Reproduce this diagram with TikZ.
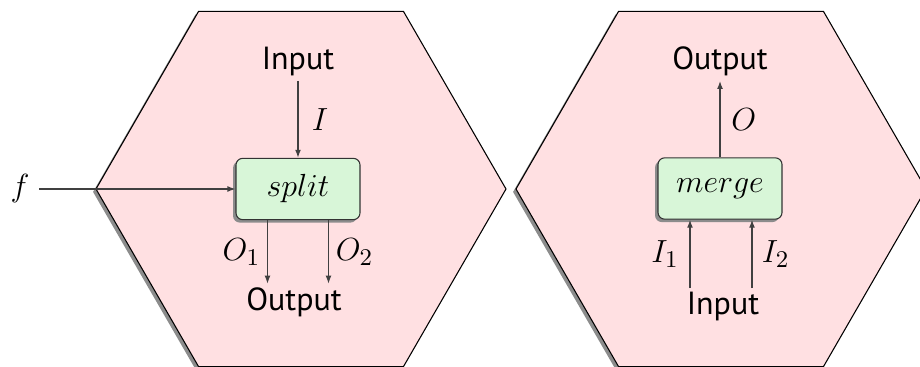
\documentclass[tikz,border=0pt]{standalone}
\usepackage{fontspec}
\setsansfont{PT Sans}
\usetikzlibrary{shapes.geometric,shadows,arrows.meta,calc}
\definecolor{cellpink}{HTML}{FFE0E2}
\definecolor{opgreen}{HTML}{D8F6D8}
\tikzset{
  cell/.style={regular polygon, regular polygon sides=6, minimum size=153.75pt,
    inner sep=0pt, outer sep=0pt, draw=black, line width=0.4pt, fill=cellpink,
    drop shadow={shadow xshift=-1.1pt, shadow yshift=-1.1pt, fill=black!45, opacity=1}},
  opbox/.style={draw=black!80, fill=opgreen, rounded corners=2.5pt, line width=0.4pt,
    minimum width=46.5pt, minimum height=23pt, inner sep=0pt, font=\fontsize{13}{15}\selectfont,
    drop shadow={shadow xshift=-1.1pt, shadow yshift=-1.1pt, fill=black!45, opacity=1}},
  port/.style={font=\sffamily\fontsize{12}{14}\selectfont, inner sep=1.5pt, anchor=base},
  lbl/.style={font=\fontsize{13}{15}\selectfont, inner sep=1pt},
  flow/.style={draw=black!75, line width=0.45pt, -{Latex[length=3pt,width=2.2pt]}}
}
\begin{document}
\begin{tikzpicture}[x=0.375pt,y=0.375pt]
\useasboundingbox (0,0) rectangle (920,367);

% split cell
\node[cell] (hexL) at (301,178) {};
\node[opbox] (split) at (298,178) {$split$};
\node[port] (inL) at (298,297) {Input};
\node[port] (outL) at (294,56) {Output};
\node[lbl] (f) at (20,178) {$f$};

\draw[flow] (inL.south) -- node[lbl, midway, right=4pt] {$I$} (split.north);
\draw[flow, shorten <=2.5pt] (f.east) -- (split.west);
\coordinate (o1) at ($(split.south)+(-30.5,0)$);
\coordinate (o2) at ($(split.south)+(30.5,0)$);
\draw[flow] (o1) -- node[lbl, midway, left=1.5pt] {$O_1$} (o1 |- outL.north);
\draw[flow] (o2) -- node[lbl, midway, right=1.5pt] {$O_2$} (o2 |- outL.north);

% merge cell
\node[cell] (hexR) at (721,178) {};
\node[opbox] (merge) at (720,178.5) {$merge$};
\node[port] (outR) at (720,297) {Output};
\node[port] (inR) at (723,52) {Input};

\draw[flow] (merge.north) -- node[lbl, midway, right=3pt] {$O$} (merge.north |- outR.south);
\coordinate (i1) at ($(merge.south)+(-30,0)$);
\coordinate (i2) at ($(merge.south)+(32,0)$);
\draw[flow] (i1 |- inR.north) -- node[lbl, midway, left=3pt] {$I_1$} (i1);
\draw[flow] (i2 |- inR.north) -- node[lbl, midway, right=2.5pt] {$I_2$} (i2);
\end{tikzpicture}
\end{document}
